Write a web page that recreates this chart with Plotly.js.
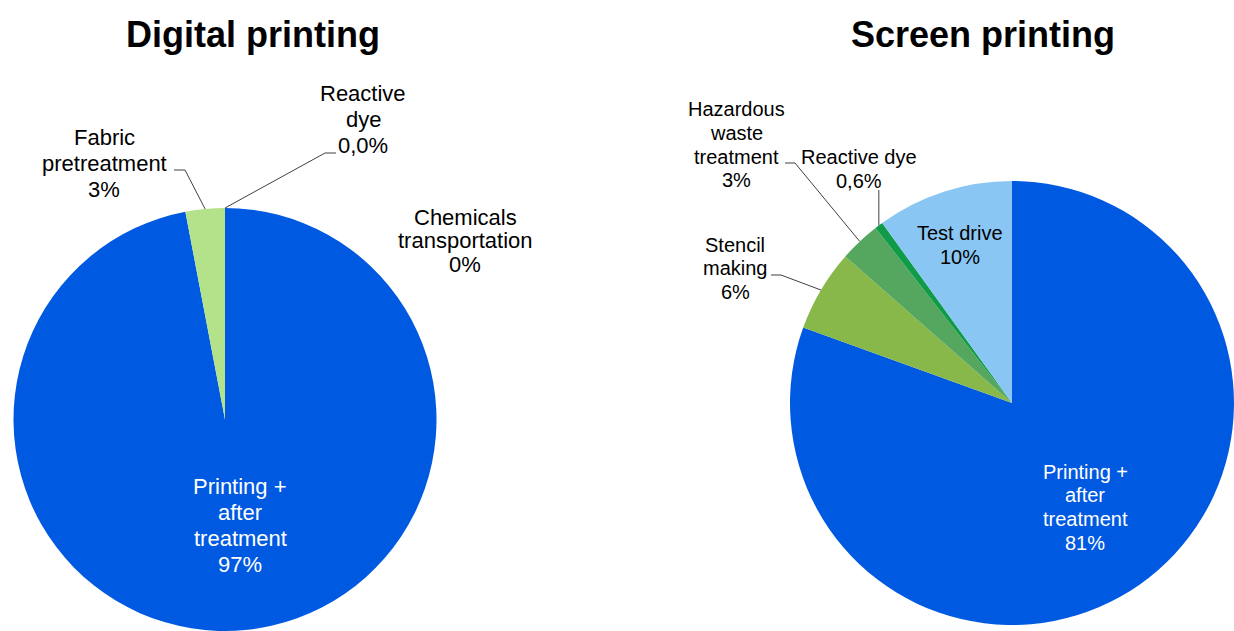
<!DOCTYPE html>
<html><head><meta charset="utf-8">
<script src="https://cdn.plot.ly/plotly-3.0.1.min.js"></script>
<style>html,body{margin:0;padding:0;background:#fff}#chart{width:1234px;height:631px}</style>
</head><body><div id="chart"></div>
<script>
const W = 1234, H = 631;

// ---- data ----
const chartTitles = ['Digital printing', 'Screen printing'];

const digitalLabels = ['Printing +<br>after<br>treatment', 'Fabric<br>pretreatment', 'Reactive<br>dye', 'Chemicals<br>transportation'];
const digitalValues = [97, 3, 0, 0];
const digitalPct = ['97%', '3%', '0,0%', '0%'];

const screenLabels = ['Printing +<br>after<br>treatment', 'Stencil<br>making', 'Hazardous<br>waste<br>treatment', 'Reactive dye', 'Test drive'];
const screenValues = [81, 6, 3, 0.6, 10];
const screenPct = ['81%', '6%', '3%', '0,6%', '10%'];

// ---- styles / layout (px) ----
const digitalColors = ['#005ae1', '#b4e28a', '#0f9b48', '#7f7f7f'];
const screenColors = ['#005ae1', '#88b84a', '#55a65e', '#0f9b48', '#8ac6f3'];
const FONT = '"Liberation Sans", Arial, sans-serif';

const pies = [
  {cx: 225, top: 208, r: 211.5, font: 22},
  {cx: 1012, top: 181, r: 222, font: 20}
];
const titlePos = [{x: 253, y: 34}, {x: 982.5, y: 34}];

const digitalPlace = [
  {x: 240, y: 486, dy: 26, color: '#ffffff'},
  {x: 104, y: 137.5, dy: 26, leader: [[174, 170], [185, 170]]},
  {x: 363, y: 93, dy: 26.5, leader: [[336, 153], [325, 153]]},
  {x: 465, y: 217.5, dy: 23.3}
];
const screenPlace = [
  {x: 1085, y: 471.5, dy: 23.8, color: '#ffffff'},
  {x: 735, y: 244.5, dy: 23.5, leader: [[771, 275], [781, 275]]},
  {x: 736, y: 109, dy: 23.8, leader: [[785, 163], [795, 163]]},
  {x: 859, y: 157, dy: 24, leader: 'vertical', ly: 190},
  {x: 960, y: 233, dy: 24, color: '#000000'}
];

const px = x => x / W;
const py = y => 1 - y / H;

function domainOf(p) {
  const y0 = Math.max(0, 1 - (p.top + 2 * p.r) / H);
  const y1 = 1 - p.top / H;
  return {x: [(p.cx - p.r) / W, (p.cx + p.r) / W], y: [y0, y1]};
}

const traces = [];
const annotations = [];
const shapes = [];

function addPie(idx, labels, values, pct, colors, place) {
  const p = pies[idx];
  traces.push({
    type: 'pie', labels: labels, values: values, sort: false,
    direction: 'clockwise', rotation: 0,
    marker: {colors: colors, line: {width: 0}},
    textinfo: 'none', hoverinfo: 'none', showlegend: false,
    domain: domainOf(p)
  });
  const total = values.reduce((a, b) => a + b, 0);
  const cy = p.top + p.r;
  let cum = 0;
  values.forEach((v, i) => {
    const th = 2 * Math.PI * (cum + v / 2) / total;
    cum += v;
    const pl = place[i];
    const lines = labels[i].split('<br>').concat([pct[i]]);
    lines.forEach((t, k) => {
      annotations.push({
        xref: 'paper', yref: 'paper', x: px(pl.x), y: py(pl.y + k * pl.dy),
        xanchor: 'center', yanchor: 'middle', showarrow: false, text: t,
        font: {family: FONT, size: p.font, color: pl.color || '#000000'}
      });
    });
    if (pl.leader) {
      const ex = p.cx + p.r * Math.sin(th);
      const ey = cy - p.r * Math.cos(th);
      const pts = (pl.leader === 'vertical' ? [[ex, pl.ly]] : pl.leader).concat([[ex, ey]]);
      const path = pts.map((q, j) => (j ? 'L ' : 'M ') + px(q[0]) + ' ' + py(q[1])).join(' ');
      shapes.push({type: 'path', xref: 'paper', yref: 'paper', path: path,
        line: {color: '#404040', width: 1}});
    }
  });
  annotations.push({
    xref: 'paper', yref: 'paper', x: px(titlePos[idx].x), y: py(titlePos[idx].y),
    xanchor: 'center', yanchor: 'middle', showarrow: false, text: chartTitles[idx],
    font: {family: FONT, size: 36, color: '#000000', weight: 700}
  });
}

addPie(0, digitalLabels, digitalValues, digitalPct, digitalColors, digitalPlace);
addPie(1, screenLabels, screenValues, screenPct, screenColors, screenPlace);

Plotly.newPlot('chart', traces, {
  width: W, height: H, margin: {l: 0, r: 0, t: 0, b: 0},
  paper_bgcolor: '#ffffff', plot_bgcolor: '#ffffff',
  annotations: annotations, shapes: shapes, showlegend: false
}, {displayModeBar: false, staticPlot: true});
</script>
</body></html>
